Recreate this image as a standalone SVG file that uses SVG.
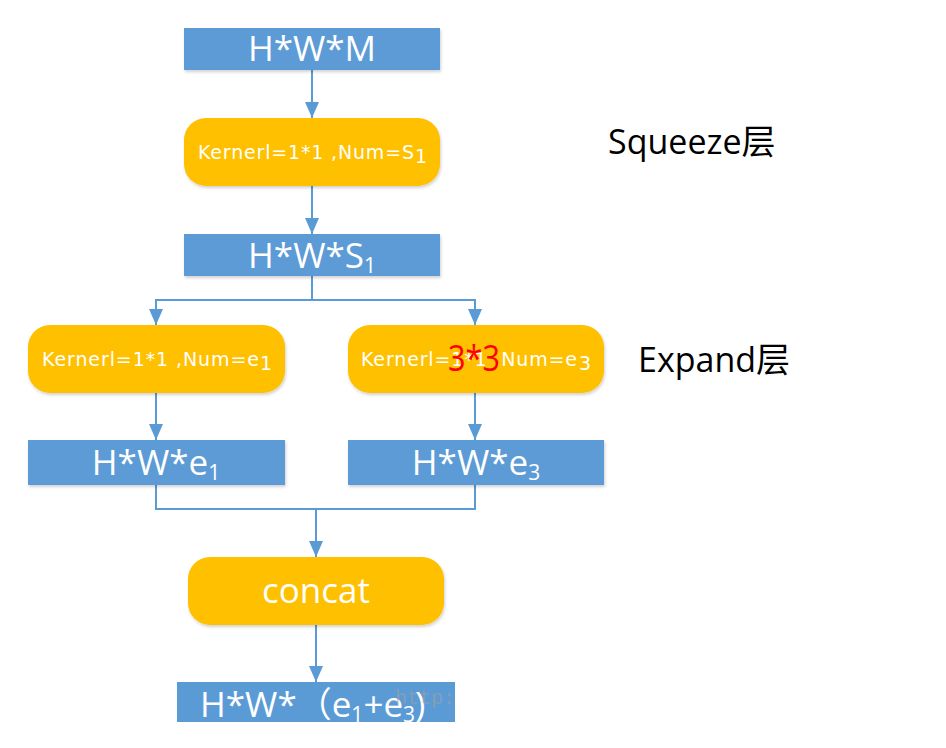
<svg xmlns="http://www.w3.org/2000/svg" width="946" height="748" viewBox="0 0 946 748">
<defs>
<style>
.rect{fill:#5B9BD5;}
.pill{fill:#FFC000;}
.sh{filter:url(#sh);}
.big{font-family:"Open Sans","Noto Sans","DejaVu Sans",sans-serif;font-size:35px;fill:#fff;text-anchor:middle;}
.small{font-family:"DejaVu Sans","Open Sans",sans-serif;font-size:19px;fill:#fff;}
.lbl{font-family:"Open Sans","Noto Sans","Noto Sans CJK SC",sans-serif;font-size:34px;fill:#000;}
.conn{stroke:#5B9BD5;stroke-width:2;fill:none;}
</style>
<filter id="sh" x="-10%" y="-20%" width="120%" height="150%">
<feDropShadow dx="1" dy="2" stdDeviation="1.5" flood-color="#000" flood-opacity="0.18"/>
</filter>
<marker id="ahb" viewBox="0 0 16 14" refX="16" refY="7" markerWidth="16" markerHeight="14" markerUnits="userSpaceOnUse" orient="auto">
<path d="M0,0 L16,7 L0,14 z" fill="#5B9BD5"/>
</marker>
</defs>
<rect width="946" height="748" fill="#fff"/>
<g id="connectors">
<line class="conn" x1="312" y1="70" x2="312" y2="118" marker-end="url(#ahb)"/>
<line class="conn" x1="312" y1="186" x2="312" y2="234" marker-end="url(#ahb)"/>
<polyline class="conn" points="312,276 312,300"/>
<polyline class="conn" points="156,325 156,300 475,300 475,325"/>
<line class="conn" x1="156" y1="300" x2="156" y2="325" marker-end="url(#ahb)"/>
<line class="conn" x1="475" y1="300" x2="475" y2="325" marker-end="url(#ahb)"/>
<line class="conn" x1="156" y1="393" x2="156" y2="440" marker-end="url(#ahb)"/>
<line class="conn" x1="475" y1="393" x2="475" y2="440" marker-end="url(#ahb)"/>
<polyline class="conn" points="156,485 156,509 475,509 475,485"/>
<line class="conn" x1="316" y1="509" x2="316" y2="557" marker-end="url(#ahb)"/>
<line class="conn" x1="316" y1="625" x2="316" y2="682" marker-end="url(#ahb)"/>
</g>
<g id="n_hwm">
<rect class="rect sh" x="184" y="28" width="256" height="42"/>
<text class="big" x="312" y="61">H*W*M</text>
</g>
<g id="n_squeeze">
<rect class="pill sh" x="184" y="118" width="256" height="68" rx="22"/>
<text class="small" x="198" y="159" textLength="216" lengthAdjust="spacing">Kernerl=1*1 ,Num=S</text>
<text class="small" x="415" y="163" font-size="13">1</text>
</g>
<g id="n_hws1">
<rect class="rect sh" x="184" y="234" width="256" height="42"/>
<text class="big" x="312" y="268">H*W*S<tspan font-size="21" dy="5">1</tspan></text>
</g>
<g id="n_exp1">
<rect class="pill sh" x="28" y="325" width="257" height="68" rx="22"/>
<text class="small" x="42" y="366" textLength="217" lengthAdjust="spacing">Kernerl=1*1 ,Num=e</text>
<text class="small" x="260" y="370" font-size="13">1</text>
</g>
<g id="n_exp3">
<rect class="pill sh" x="348" y="325" width="256" height="68" rx="22"/>
<text class="small" x="361" y="366" textLength="216" lengthAdjust="spacing">Kernerl=1*1 ,Num=e</text>
<text class="small" x="579" y="370" font-size="13">3</text>
<text x="448" y="371" font-family="'Open Sans','Noto Sans',sans-serif" font-size="36" fill="#FF0000" textLength="52" lengthAdjust="spacingAndGlyphs">3*3</text>
</g>
<g id="n_hwe1">
<rect class="rect sh" x="28" y="440" width="257" height="45"/>
<text class="big" x="156" y="475">H*W*e<tspan font-size="21" dy="5">1</tspan></text>
</g>
<g id="n_hwe3">
<rect class="rect sh" x="348" y="440" width="256" height="45"/>
<text class="big" x="476" y="475">H*W*e<tspan font-size="21" dy="5">3</tspan></text>
</g>
<g id="n_concat">
<rect class="pill sh" x="188" y="557" width="256" height="68" rx="22"/>
<text class="big" x="316" y="603">concat</text>
</g>
<g id="n_out">
<rect class="rect" x="177" y="682" width="278" height="40"/>
<text class="big" x="200" y="717" style="text-anchor:start">H*W*<tspan font-family="'Noto Sans CJK SC',sans-serif">（</tspan>e<tspan font-size="21" dy="5">1</tspan><tspan dy="-5">+e</tspan><tspan font-size="21" dy="5">3</tspan><tspan dy="-5">)</tspan></text>
<text x="395" y="704" font-family="'Liberation Mono',monospace" font-size="20" fill="#a0a0a0" fill-opacity="0.6">http:</text>
</g>
<g id="labels">
<text class="lbl" x="608" y="154">Squeeze<tspan font-family="'Noto Sans CJK SC',sans-serif">层</tspan></text>
<text class="lbl" x="638" y="372">Expand<tspan font-family="'Noto Sans CJK SC',sans-serif">层</tspan></text>
</g>
</svg>
